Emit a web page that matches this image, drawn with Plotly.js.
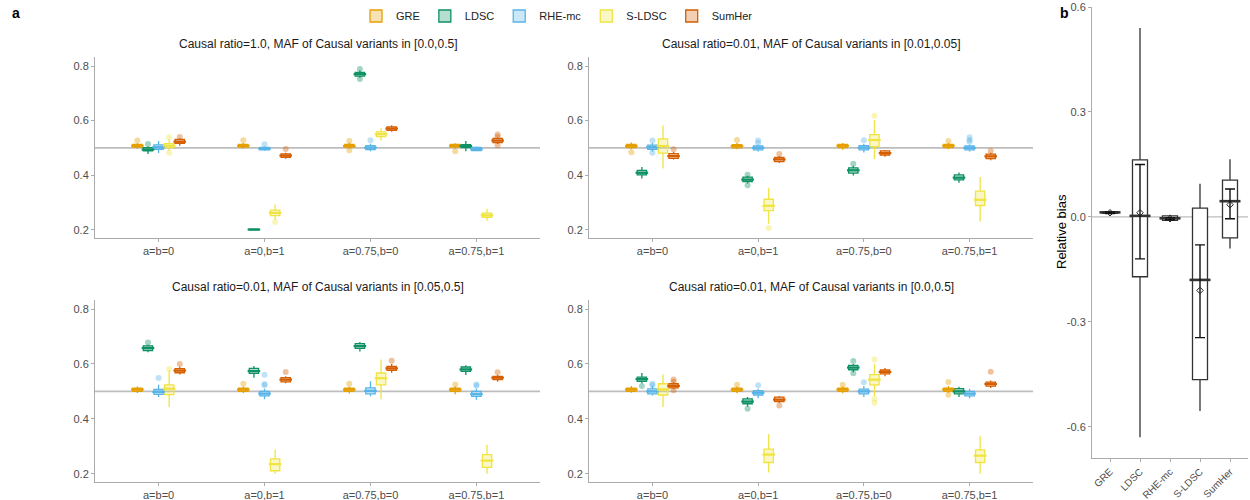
<!DOCTYPE html>
<html><head><meta charset="utf-8">
<script src="https://cdn.plot.ly/plotly-3.0.1.min.js"></script>
<style>html,body{margin:0;padding:0;background:#fff}#chart{width:1250px;height:500px}</style>
</head><body><div id="chart"></div>
<script>
// ---------- DATA ----------
const methods = ["GRE", "LDSC", "RHE-mc", "S-LDSC", "SumHer"];
const colors = ["#E69F00", "#0E9163", "#56B4E9", "#F0E442", "#D55E00"];
const fills = ["rgba(230,159,0,0.3)", "rgba(14,145,99,0.3)", "rgba(86,180,233,0.3)", "rgba(240,228,66,0.3)", "rgba(213,94,0,0.3)"];
const scenarios = ["a=b=0", "a=0,b=1", "a=0.75,b=0", "a=0.75,b=1"];
const panelTitles = [
  "Causal ratio=1.0, MAF of Causal variants in [0.0,0.5]",
  "Causal ratio=0.01, MAF of Causal variants in [0.01,0.05]",
  "Causal ratio=0.01, MAF of Causal variants in [0.05,0.5]",
  "Causal ratio=0.01, MAF of Causal variants in [0.0,0.5]"
];
const yTicksA = [0.2, 0.4, 0.6, 0.8];
const yTickTextA = ["0.2", "0.4", "0.6", "0.8"];

// box stats per panel: [method][scenario] = [lowerWhisker, q1, median, q3, upperWhisker]
const panel1Stats = [
  [[.497,.503,.508,.513,.517],[.497,.503,.508,.513,.518],[.497,.503,.507,.513,.518],[.497,.503,.508,.513,.517]],
  [[.478,.489,.494,.501,.505],[.199,.200,.201,.202,.203],[.757,.763,.770,.777,.784],[.488,.501,.507,.512,.525]],
  [[.481,.495,.503,.511,.525],[.490,.493,.497,.502,.505],[.488,.494,.501,.508,.515],[.488,.490,.495,.502,.505]],
  [[.490,.501,.508,.516,.531],[.237,.252,.262,.272,.293],[.527,.541,.550,.559,.572],[.233,.246,.253,.261,.277]],
  [[.508,.517,.523,.531,.535],[.460,.465,.472,.478,.482],[.559,.564,.571,.577,.583],[.514,.519,.527,.535,.538]]
];
const panel1Outliers = [
  [[0,.527],[1,.528],[2,.525],[2,.491],[3,.488]],
  [[0,.514],[2,.789],[2,.752]],
  [[1,.513],[2,.528]],
  [[0,.539],[0,.482],[1,.229]],
  [[0,.540],[1,.496],[3,.549],[3,.541],[3,.510]]
];
const panel2Stats = [
  [[.495,.501,.507,.513,.520],[.495,.500,.507,.512,.518],[.493,.501,.508,.513,.518],[.495,.501,.508,.513,.518]],
  [[.388,.401,.409,.418,.430],[.370,.377,.384,.393,.398],[.399,.408,.418,.427,.435],[.372,.383,.391,.401,.410]],
  [[.487,.495,.503,.510,.518],[.487,.493,.500,.507,.512],[.483,.493,.501,.508,.515],[.487,.493,.500,.507,.512]],
  [[.425,.481,.507,.533,.582],[.222,.270,.288,.312,.354],[.459,.505,.529,.549,.601],[.230,.289,.310,.342,.393]],
  [[.458,.462,.470,.479,.485],[.445,.450,.458,.465,.470],[.468,.474,.481,.489,.492],[.455,.461,.469,.477,.482]]
];
const panel2Outliers = [
  [[0,.484],[1,.529],[3,.525]],
  [[1,.402],[1,.363],[2,.442]],
  [[0,.527],[0,.482],[1,.518],[1,.527],[2,.528],[3,.523],[3,.539],[3,.529]],
  [[1,.207],[2,.618]],
  [[0,.495],[1,.478],[3,.489]]
];
const panel3Stats = [
  [[.494,.500,.507,.512,.518],[.494,.500,.507,.512,.518],[.492,.500,.507,.512,.518],[.490,.500,.507,.512,.518]],
  [[.643,.649,.658,.666,.670],[.550,.566,.574,.584,.593],[.645,.657,.665,.674,.680],[.560,.573,.580,.589,.595]],
  [[.480,.489,.498,.507,.524],[.471,.484,.492,.500,.510],[.482,.491,.502,.513,.537],[.470,.482,.490,.500,.510]],
  [[.443,.488,.510,.524,.577],[.200,.211,.235,.254,.288],[.471,.524,.548,.567,.616],[.200,.223,.248,.270,.306]],
  [[.562,.568,.576,.583,.590],[.530,.535,.543,.550,.555],[.568,.577,.584,.591,.600],[.535,.543,.550,.555,.560]]
];
const panel3Outliers = [
  [[1,.528],[2,.528],[3,.525]],
  [[0,.678]],
  [[0,.549],[1,.522],[1,.527],[1,.561],[3,.521],[3,.525]],
  [[0,.582]],
  [[0,.600],[1,.571],[2,.612],[3,.570]]
];
const panel4Stats = [
  [[.495,.500,.507,.512,.520],[.493,.500,.507,.512,.518],[.493,.500,.507,.512,.518],[.495,.500,.507,.512,.520]],
  [[.530,.537,.545,.552,.567],[.445,.455,.463,.473,.480],[.570,.579,.587,.595,.600],[.480,.491,.500,.510,.517]],
  [[.485,.491,.500,.509,.520],[.475,.487,.495,.503,.510],[.480,.491,.500,.508,.520],[.475,.484,.492,.500,.510]],
  [[.443,.487,.507,.528,.562],[.205,.241,.270,.290,.345],[.482,.524,.543,.561,.599],[.200,.241,.266,.287,.337]],
  [[.508,.513,.520,.528,.533],[.458,.463,.470,.479,.483],[.555,.564,.571,.578,.585],[.512,.519,.527,.534,.540]]
];
const panel4Outliers = [
  [[1,.524],[2,.524],[3,.534],[3,.488]],
  [[0,.520],[1,.437],[2,.611],[2,.566]],
  [[0,.528],[0,.522],[1,.522],[2,.533]],
  [[2,.616],[2,.472],[2,.459]],
  [[0,.543],[0,.535],[0,.504],[1,.449],[3,.572]]
];
const truthA = 0.5;

// panel b: relative bias
const bLower = [0.008, -0.630, -0.014, -0.555, -0.090];
const bQ1 = [0.010, -0.171, -0.010, -0.465, -0.060];
const bMedian = [0.013, 0.003, -0.004, -0.180, 0.045];
const bQ3 = [0.015, 0.163, 0.003, 0.025, 0.105];
const bUpper = [0.017, 0.540, 0.006, 0.095, 0.165];
const bMean = [0.012, 0.012, -0.005, -0.210, 0.035];
const bErrHigh = [0.014, 0.150, -0.002, -0.080, 0.080];
const bErrLow = [0.010, -0.120, -0.008, -0.345, -0.005];
const yTicksB = [-0.6, -0.3, 0.0, 0.3, 0.6];
const yTickTextB = ["-0.6", "-0.3", "0.0", "0.3", "0.6"];
const truthB = 0.0;

// ---------- BUILD ----------
const allStats = [panel1Stats, panel2Stats, panel3Stats, panel4Stats];
const allOutliers = [panel1Outliers, panel2Outliers, panel3Outliers, panel4Outliers];
const dodge = 0.1, boxW = 0.088;
const traces = [];
const axisSuffix = ["", "2", "3", "4"];
allStats.forEach((stats, p) => {
  const xa = "x" + axisSuffix[p], ya = "y" + axisSuffix[p];
  methods.forEach((m, mi) => {
    const xs = scenarios.map((s, si) => si + (mi - 2) * dodge);
    traces.push({
      type: "box", name: m, legendgroup: m, showlegend: p === 0,
      x: xs,
      lowerfence: stats[mi].map(r => r[0]), q1: stats[mi].map(r => r[1]),
      median: stats[mi].map(r => r[2]), q3: stats[mi].map(r => r[3]),
      upperfence: stats[mi].map(r => r[4]),
      width: boxW, whiskerwidth: 0, boxpoints: false,
      line: {color: colors[mi], width: 1.3}, fillcolor: fills[mi],
      xaxis: xa, yaxis: ya, hoverinfo: "skip"
    });
    traces.push({
      type: "scatter", mode: "markers", showlegend: false, legendgroup: m,
      x: xs, y: stats[mi].map(r => r[2]),
      marker: {symbol: "line-ew", size: 9, line: {color: colors[mi], width: 2.2}},
      xaxis: xa, yaxis: ya, hoverinfo: "skip"
    });
    const outs = allOutliers[p][mi];
    traces.push({
      type: "scatter", mode: "markers", showlegend: false, legendgroup: m,
      x: outs.map(o => o[0] + (mi - 2) * dodge), y: outs.map(o => o[1]),
      marker: {color: colors[mi], size: 6, opacity: 0.38},
      xaxis: xa, yaxis: ya, hoverinfo: "skip"
    });
  });
});
// panel b
traces.push({
  type: "box", showlegend: false, x: methods,
  lowerfence: bLower, q1: bQ1, median: bMedian, q3: bQ3, upperfence: bUpper,
  width: 0.5, whiskerwidth: 0, boxpoints: false,
  line: {color: "#333333", width: 1.3}, fillcolor: "#ffffff",
  xaxis: "x5", yaxis: "y5", hoverinfo: "skip"
});
traces.push({
  type: "scatter", mode: "markers", showlegend: false, x: methods, y: bMedian,
  marker: {symbol: "line-ew", size: 15, line: {color: "#333333", width: 2.6}},
  xaxis: "x5", yaxis: "y5", hoverinfo: "skip"
});
traces.push({
  type: "scatter", mode: "markers", showlegend: false, x: methods, y: bMean,
  error_y: {type: "data", symmetric: false,
    array: bErrHigh.map((v, i) => v - bMean[i]),
    arrayminus: bMean.map((v, i) => v - bErrLow[i]),
    color: "#111111", thickness: 1.4, width: 5},
  marker: {symbol: "diamond-open", size: 5, color: "#222222", line: {width: 1}},
  xaxis: "x5", yaxis: "y5", hoverinfo: "skip"
});

// ---------- LAYOUT ----------
const W = 1250, H = 500;
const fx = px => px / W, fy = px => 1 - px / H;
const axLine = "#ABABAB", tickFont = {family: "Liberation Sans, Arial, sans-serif", size: 11, color: "#4D4D4D"};
function xA(d0, d1, anchor) {
  return {domain: [fx(d0), fx(d1)], anchor: anchor, range: [-0.6, 3.6],
    tickvals: scenarios.map((s, i) => i), ticktext: scenarios,
    showline: true, linecolor: axLine, linewidth: 1, ticks: "outside", ticklen: 3,
    tickcolor: axLine, showgrid: false, zeroline: false, tickfont: tickFont, fixedrange: true};
}
function yA(top, bottom, anchor) {
  return {domain: [fy(bottom), fy(top)], anchor: anchor, range: [0.17, 0.833],
    tickvals: yTicksA, ticktext: yTickTextA,
    showline: true, linecolor: axLine, linewidth: 1, ticks: "outside", ticklen: 3,
    tickcolor: axLine, showgrid: false, zeroline: false, tickfont: tickFont, fixedrange: true};
}
const panels = [
  {x0: 95, x1: 540, y0: 57, y1: 238, tY: 44},
  {x0: 589, x1: 1033, y0: 57, y1: 238, tY: 44},
  {x0: 95, x1: 540, y0: 300, y1: 482, tY: 287},
  {x0: 589, x1: 1033, y0: 300, y1: 482, tY: 287}
];
const layout = {
  width: W, height: H, margin: {l: 0, r: 0, t: 0, b: 0},
  paper_bgcolor: "#fff", plot_bgcolor: "#fff",
  font: {family: "Liberation Sans, Arial, sans-serif", color: "#000"},
  boxmode: "overlay",
  showlegend: true,
  legend: {orientation: "h", x: fx(557), xanchor: "center", y: fy(16), yanchor: "middle",
    font: {size: 11, color: "#222"}, itemwidth: 30, bgcolor: "rgba(0,0,0,0)", tracegroupgap: 0},
  shapes: [], annotations: []
};
panels.forEach((pn, p) => {
  const s = axisSuffix[p];
  layout["xaxis" + s] = xA(pn.x0, pn.x1, "y" + s);
  layout["yaxis" + s] = yA(pn.y0, pn.y1, "x" + s);
  layout.shapes.push({type: "line", xref: "x" + s + " domain", yref: "y" + s,
    x0: 0, x1: 1, y0: truthA, y1: truthA, line: {color: "#BDBDBD", width: 1.6}, layer: "below"});
  layout.annotations.push({text: panelTitles[p], xref: "paper", yref: "paper",
    x: fx((pn.x0 + pn.x1) / 2), y: fy(pn.tY), xanchor: "center", yanchor: "middle",
    showarrow: false, font: {size: 12, color: "#1a1a1a"}});
});
layout.xaxis5 = {domain: [fx(1092), fx(1248)], anchor: "y5", type: "category",
  categoryorder: "array", categoryarray: methods, range: [-0.6, 4.6],
  showline: true, linecolor: axLine, linewidth: 1, ticks: "outside", ticklen: 3,
  tickcolor: axLine, tickangle: -45, showgrid: false, zeroline: false,
  tickfont: {family: "Liberation Sans, Arial, sans-serif", size: 10, color: "#4D4D4D"}, fixedrange: true};
layout.yaxis5 = {domain: [fy(458), fy(7)], anchor: "x5", range: [-0.689, 0.6],
  tickvals: yTicksB, ticktext: yTickTextB,
  showline: true, linecolor: axLine, linewidth: 1, ticks: "outside", ticklen: 3,
  tickcolor: axLine, showgrid: false, zeroline: false, tickfont: tickFont, fixedrange: true};
layout.shapes.push({type: "line", xref: "x5 domain", yref: "y5", x0: 0, x1: 1,
  y0: truthB, y1: truthB, line: {color: "#BDBDBD", width: 1.2}, layer: "below"});
layout.annotations.push({text: "Relative bias", xref: "paper", yref: "paper", x: fx(1062), y: fy(232),
  xanchor: "center", yanchor: "middle", textangle: -90, showarrow: false, font: {size: 13, color: "#000"}});
layout.annotations.push({text: "<b>a</b>", xref: "paper", yref: "paper", x: fx(16), y: fy(13),
  xanchor: "center", yanchor: "middle", showarrow: false, font: {size: 14, color: "#000"}});
layout.annotations.push({text: "<b>b</b>", xref: "paper", yref: "paper", x: fx(1064), y: fy(13),
  xanchor: "center", yanchor: "middle", showarrow: false, font: {size: 14, color: "#000"}});

Plotly.newPlot("chart", traces, layout, {staticPlot: true, displayModeBar: false});
</script></body></html>
